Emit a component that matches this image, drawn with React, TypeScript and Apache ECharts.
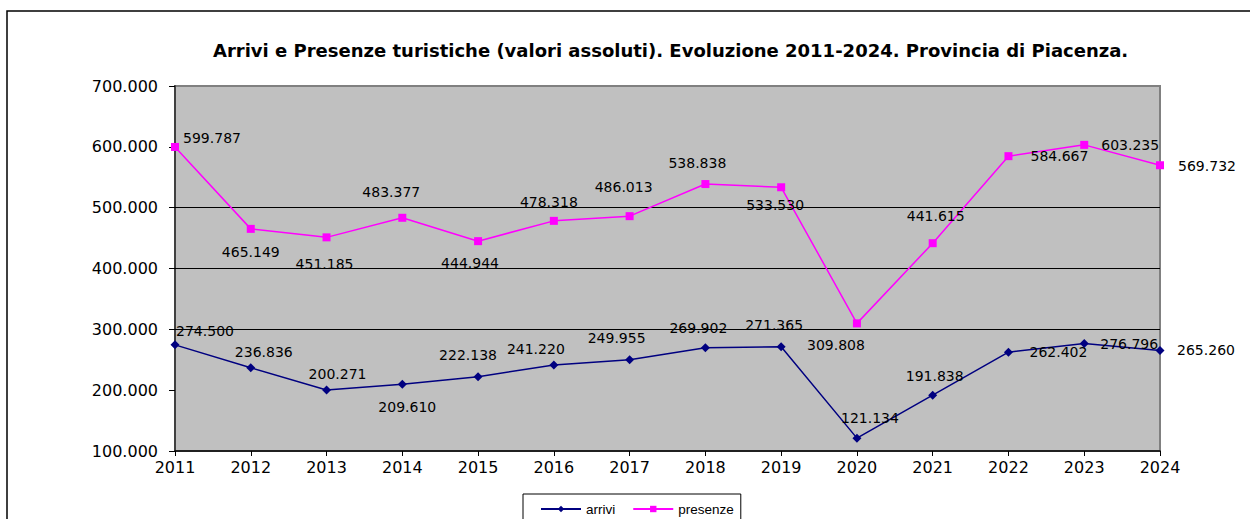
import React, { useEffect, useRef } from "react";
import * as echarts from "echarts";

const years = ["2011", "2012", "2013", "2014", "2015", "2016", "2017", "2018", "2019", "2020", "2021", "2022", "2023", "2024"];
const arrivi = [274500, 236836, 200271, 209610, 222138, 241220, 249955, 269902, 271365, 121134, 191838, 262402, 276796, 265260];
const presenze = [599787, 465149, 451185, 483377, 444944, 478318, 486013, 538838, 533530, 309808, 441615, 584667, 603235, 569732];
const gridLineValues = [300000, 400000, 500000];
const titleText = "Arrivi e Presenze turistiche (valori assoluti). Evoluzione 2011-2024. Provincia di Piacenza.";

// label placement offsets (px) relative to each point
const arriviLabelOffsets: number[][] = [
  [30, -14], [13, -16], [11, -16], [5, 23], [-10, -22], [-18, -16], [-13, -22],
  [-7, -20], [-7, -22], [13, -20], [2, -19], [50, 0], [45, 1], [46, 0],
];
const presenzeLabelOffsets: number[][] = [
  [37, -9], [0, 23], [-2, 27], [-11, -26], [-8, 22], [-5, -19], [-6, -29],
  [-8, -21], [-6, 18], [-21, 22], [3, -27], [51, 0], [46, 0], [47, 1],
];

const fmt = (v: number) => String(Math.round(v)).replace(/\B(?=(\d{3})+(?!\d))/g, ".");

export default function App() {
  const ref = useRef<HTMLDivElement>(null);
  useEffect(() => {
    if (!ref.current) return;
    const chart = echarts.init(ref.current, undefined, { renderer: "svg" });
    const labelBase = {
      show: true,
      position: "inside",
      align: "center",
      verticalAlign: "middle",
      color: "#000",
      fontFamily: "DejaVu Sans",
      fontSize: 14,
      formatter: (p: any) => fmt(p.value),
    };
    chart.setOption({
      animation: false,
      backgroundColor: "#fff",
      graphic: [
        {
          type: "rect",
          shape: { x: 7, y: 11, width: 1260, height: 530 },
          style: { fill: "none", stroke: "#000", lineWidth: 1.5 },
          silent: true,
          z: -10,
        },
      ],
      title: {
        text: titleText,
        left: 213,
        top: 41,
        padding: 0,
        textStyle: { fontFamily: "DejaVu Sans", fontWeight: "bold", fontSize: 18, color: "#000" },
      },
      legend: {
        left: 523,
        top: 494,
        orient: "horizontal",
        backgroundColor: "#fff",
        borderColor: "#000",
        borderWidth: 1,
        borderRadius: 0,
        padding: [8, 7, 14, 17],
        itemWidth: 40,
        itemHeight: 8,
        itemGap: 17,
        textStyle: { fontFamily: "Liberation Sans", fontSize: 13.5, color: "#000" },
        data: ["arrivi", "presenze"],
      },
      grid: {
        left: 175,
        right: 90,
        top: 86,
        height: 365,
        show: true,
        backgroundColor: "#c0c0c0",
        borderColor: "#808080",
        borderWidth: 2,
      },
      xAxis: {
        type: "category",
        data: years,
        boundaryGap: false,
        axisLine: { show: true, lineStyle: { color: "#000", width: 1.5 } },
        axisTick: { show: true, length: 5, lineStyle: { color: "#000" } },
        axisLabel: { margin: 8, color: "#000", fontFamily: "DejaVu Sans", fontSize: 16 },
        splitLine: { show: false },
      },
      yAxis: {
        type: "value",
        min: 100000,
        max: 700000,
        interval: 100000,
        axisLine: { show: true, lineStyle: { color: "#404040", width: 2 } },
        axisTick: { show: true, length: 6, lineStyle: { color: "#000" } },
        axisLabel: { margin: 17, color: "#000", fontFamily: "DejaVu Sans", fontSize: 16, formatter: (v: number) => fmt(v) },
        splitLine: { show: false },
      },
      series: [
        {
          name: "arrivi",
          type: "line",
          data: arrivi.map((v, i) => ({ value: v, label: { offset: arriviLabelOffsets[i] } })),
          symbol: "diamond",
          symbolSize: 9,
          lineStyle: { color: "#000080", width: 1.5 },
          itemStyle: { color: "#000080" },
          label: labelBase,
          z: 3,
          markLine: {
            silent: true,
            symbol: "none",
            label: { show: false },
            lineStyle: { color: "#000", width: 1, type: "solid" },
            data: gridLineValues.map((v) => ({ yAxis: v })),
            z: 1,
          },
        },
        {
          name: "presenze",
          type: "line",
          data: presenze.map((v, i) => ({ value: v, label: { offset: presenzeLabelOffsets[i] } })),
          symbol: "rect",
          symbolSize: 8,
          lineStyle: { color: "#ff00ff", width: 1.5 },
          itemStyle: { color: "#ff00ff" },
          label: labelBase,
          z: 3,
        },
      ],
    });
    return () => chart.dispose();
  }, []);
  return <div ref={ref} style={{ position: "fixed", left: 0, top: 0, width: 1250, height: 519 }} />;
}
